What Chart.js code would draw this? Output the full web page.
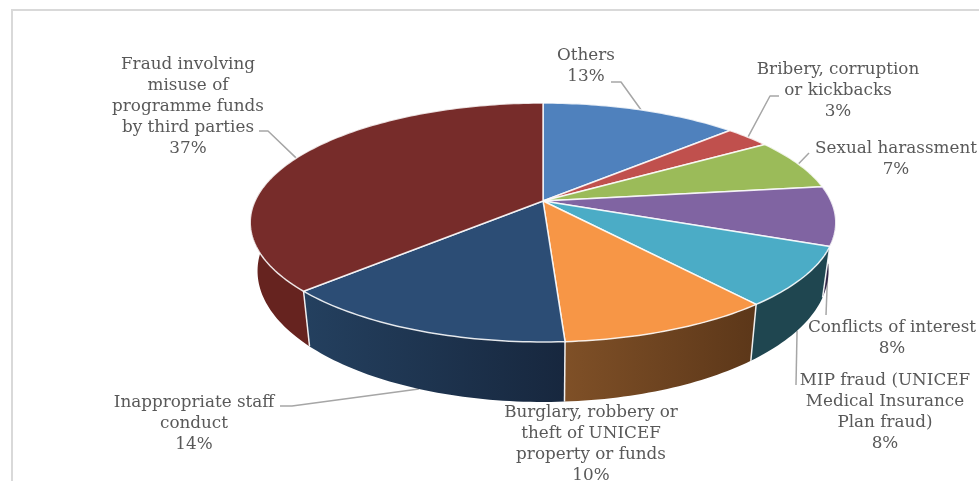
<!DOCTYPE html>
<html>
<head>
<meta charset="utf-8">
<style>
  html, body { margin: 0; padding: 0; background: #fff; overflow: hidden; }
  #frame { position: absolute; left: 11px; top: 9px; width: 979px; height: 481px; border: 2px solid #d9d9d9; box-sizing: border-box; }
  #chart { position: absolute; left: 0; top: 0; }
</style>
<script src="https://cdn.jsdelivr.net/npm/chart.js@4"></script>
</head>
<body>
<div id="frame"></div>
<canvas id="chart" width="979" height="481"></canvas>
<script>
// data
const categories = [
  "Others",
  "Bribery, corruption or kickbacks",
  "Sexual harassment",
  "Conflicts of interest",
  "MIP fraud (UNICEF Medical Insurance Plan fraud)",
  "Burglary, robbery or theft of UNICEF property or funds",
  "Inappropriate staff conduct",
  "Fraud involving misuse of programme funds by third parties",
];
const shares = [13, 3, 7, 8, 8, 10, 14, 37];

// colours
const topColors = ["#4f81bd", "#c0504d", "#9bbb59", "#8064a2", "#4bacc6", "#f79646", "#2c4d75", "#772c2a"];
const wallLeft = ["#3a5f8c", "#8e3b39", "#728a42", "#3a2c50", "#1f4650", "#7f5027", "#24405f", "#66231f"];
const wallRight = ["#3a5f8c", "#8e3b39", "#728a42", "#2c2140", "#1f4650", "#5c3719", "#17273e", "#66231f"];

// label layout: wrapped lines, centre x, first baseline
const labelLines = [
  ["Others"],
  ["Bribery, corruption", "or kickbacks"],
  ["Sexual harassment"],
  ["Conflicts of interest"],
  ["MIP fraud (UNICEF", "Medical Insurance", "Plan fraud)"],
  ["Burglary, robbery or", "theft of UNICEF", "property or funds"],
  ["Inappropriate staff", "conduct"],
  ["Fraud involving", "misuse of", "programme funds", "by third parties"],
];
const labelX = [586, 838, 896, 892, 885, 591, 194, 188];
const labelY = [60, 74, 153, 332, 385, 417, 407, 69];

// leader lines start at the label; they end on the pie rim at the slice middle
const leaderStart = [
  [[611, 82], [621, 82]],
  [[779, 96], [770, 96]],
  [[809, 153]],
  [[826, 315]],
  [[796, 385]],
  null,
  [[280, 406], [292, 406]],
  [[259, 131], [268, 131]],
];
const leaderOnBase = [false, false, false, true, true, false, true, false];

// perspective of the pie disc
const cx = 543, cy = 201, R = 288, B = 115.6, K = -0.18;

function rimTop(a) {
  // a = chart.js arc angle, -PI/2 is 12 o'clock
  const t = a + Math.PI / 2;
  const u = Math.sin(t), v = -Math.cos(t);
  const d = 1 + K * v;
  return [cx + R * u / d, cy + B * v / d];
}
function rimBase(a) {
  const p = rimTop(a);
  return [cx + 0.975 * (p[0] - cx), p[1] + 55 + (p[1] - 290) * 0.096];
}
function arcPoints(fn, start, end) {
  const n = Math.max(2, Math.ceil((end - start) / 0.02));
  const pts = [];
  for (let i = 0; i <= n; i++) pts.push(fn(start + (end - start) * i / n));
  return pts;
}

const pie3d = {
  id: "pie3d",
  beforeDatasetDraw(chart, args) {
    const ctx = chart.ctx;
    const arcs = args.meta.data;
    ctx.save();
    ctx.lineJoin = "round";

    // leader lines go behind the pie
    ctx.strokeStyle = "#a6a6a6";
    ctx.lineWidth = 1.5;
    arcs.forEach((arc, i) => {
      if (!leaderStart[i]) return;
      const mid = (arc.startAngle + arc.endAngle) / 2;
      const end = leaderOnBase[i] ? rimBase(mid) : rimTop(mid);
      ctx.beginPath();
      leaderStart[i].forEach((p, k) => k ? ctx.lineTo(p[0], p[1]) : ctx.moveTo(p[0], p[1]));
      ctx.lineTo(end[0], end[1]);
      ctx.stroke();
    });

    // side walls
    arcs.forEach((arc, i) => {
      const top = arcPoints(rimTop, arc.startAngle, arc.endAngle);
      const base = arcPoints(rimBase, arc.startAngle, arc.endAngle);
      const xs = top.concat(base).map(p => p[0]);
      const g = ctx.createLinearGradient(Math.min(...xs), 0, Math.max(...xs), 0);
      g.addColorStop(0, wallLeft[i]);
      g.addColorStop(1, wallRight[i]);
      ctx.beginPath();
      top.forEach((p, k) => k ? ctx.lineTo(p[0], p[1]) : ctx.moveTo(p[0], p[1]));
      base.reverse().forEach(p => ctx.lineTo(p[0], p[1]));
      ctx.closePath();
      ctx.fillStyle = g;
      ctx.fill();
    });

    // seams on the wall between neighbouring slices
    ctx.strokeStyle = "rgba(255,255,255,0.9)";
    ctx.lineWidth = 1.5;
    arcs.forEach(arc => {
      const a = arc.startAngle + Math.PI / 2;
      if (a < 1.75 || a > 4.6) return;
      const p = rimTop(arc.startAngle), q = rimBase(arc.startAngle);
      ctx.beginPath();
      ctx.moveTo(p[0], p[1]);
      ctx.lineTo(q[0], q[1]);
      ctx.stroke();
    });

    // top face
    arcs.forEach((arc, i) => {
      const rim = arcPoints(rimTop, arc.startAngle, arc.endAngle);
      ctx.beginPath();
      ctx.moveTo(cx, cy);
      rim.forEach(p => ctx.lineTo(p[0], p[1]));
      ctx.closePath();
      ctx.fillStyle = topColors[i];
      ctx.fill();
      ctx.strokeStyle = "rgba(255,255,255,0.85)";
      ctx.lineWidth = 1.5;
      ctx.stroke();
    });
    ctx.restore();
    return false;
  },
  afterDraw(chart) {
    const ctx = chart.ctx;
    ctx.save();

    // labels
    ctx.fillStyle = "#595959";
    ctx.font = '16.8px "DejaVu Serif"';
    ctx.textAlign = "center";
    ctx.textBaseline = "alphabetic";
    labelLines.forEach((lines, i) => {
      lines.concat(shares[i] + "%").forEach((line, k) => {
        ctx.fillText(line, labelX[i], labelY[i] + k * 20.9);
      });
    });
    ctx.restore();
  },
};

new Chart(document.getElementById("chart"), {
  type: "pie",
  data: {
    labels: categories,
    datasets: [{ data: shares, backgroundColor: topColors }],
  },
  options: {
    responsive: false,
    animation: false,
    plugins: { legend: { display: false } },
  },
  plugins: [pie3d],
});
</script>
</body>
</html>
